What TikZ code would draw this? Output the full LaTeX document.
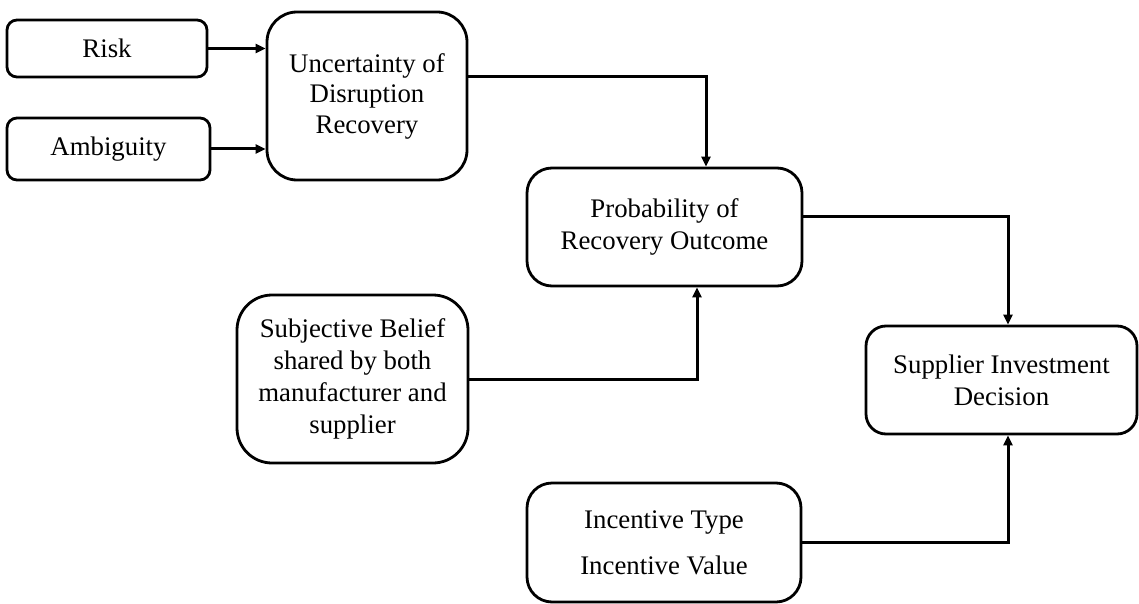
\documentclass[tikz,border=0pt]{standalone}
\usepackage{fontspec}
\setmainfont{Liberation Serif}
\usetikzlibrary{arrows.meta}
\begin{document}
\begin{tikzpicture}[x=1pt, y=-1pt,
  box/.style={draw, line width=2.8pt, rounded corners=#1, align=center,
    inner sep=0pt, font=\fontsize{26.8}{32}\selectfont},
  link/.style={line width=3pt, -{Triangle[length=10pt,width=9pt]}}]
\useasboundingbox (0,0) rectangle (1139,604);

% boxes (centre, size)
\node[box=10, minimum width=200, minimum height=57] (risk) at (107,48.5) {Risk};
\node[box=10, minimum width=203, minimum height=62] (amb) at (108.5,149) {Ambiguity};
\node[box=30, minimum width=200, minimum height=168] (unc) at (367,96)
  {\raisebox{-4pt}{\parbox{190pt}{\centering\fontsize{26.8}{30.5}\selectfont
   Uncertainty of\\Disruption\\Recovery}}};
\node[box=25, minimum width=275, minimum height=118] (prob) at (664.5,227)
  {Probability of\\Recovery Outcome};
\node[box=35, minimum width=231, minimum height=168] (subj) at (352.5,379)
  {Subjective Belief\\shared by both\\manufacturer and\\supplier};
\node[box=20, minimum width=271, minimum height=108] (supp) at (1001.5,380)
  {Supplier Investment\\Decision};
\node[box=25, minimum width=274, minimum height=119] (inc) at (664,542.5)
  {Incentive Type\\[14pt]Incentive Value};

% bend points of the elbow connectors
\coordinate (b1) at (706,77);
\coordinate (b2) at (1008,216);
\coordinate (b3) at (697,377);

% connectors
\draw[link] (risk.east) -- (risk.east -| unc.west);
\draw[link] (amb.east) -- (amb.east -| unc.west);
\draw[link] (b1 -| unc.east) -- (b1) -- (b1 |- prob.north);
\draw[link] (b2 -| prob.east) -- (b2) -- (b2 |- supp.north);
\draw[link] (subj.east) -- (subj.east -| b3) -- (b3 |- prob.south);
\draw[link] (inc.east) -- (inc.east -| b2) -- (b2 |- supp.south);
\end{tikzpicture}
\end{document}
